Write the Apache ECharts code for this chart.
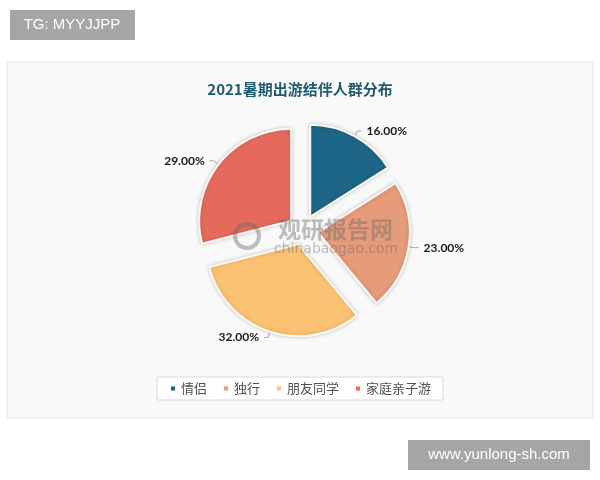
<!DOCTYPE html>
<html>
<head>
<meta charset="utf-8">
<script src="https://cdn.jsdelivr.net/npm/echarts@6/dist/echarts.min.js"></script>
<style>
html,body{margin:0;padding:0;background:#fff;}
#chart{width:600px;height:480px;}
</style>
</head>
<body>
<div id="chart"></div>
<script>
var titleText = '2021暑期出游结伴人群分布';
var categories = ['情侣', '独行', '朋友同学', '家庭亲子游'];
var values = [16, 23, 32, 29];
var colors = ['#1d6687', '#e69b7a', '#fcc273', '#e66a5c'];

var chart = echarts.init(document.getElementById('chart'));
var data = categories.map(function (c, i) {
  return { name: c, value: values[i], selected: true, itemStyle: { color: colors[i] } };
});
var cjk = '"Noto Sans CJK SC", sans-serif';
var wm = 'rgba(105,105,105,0.42)';
chart.setOption({
  backgroundColor: '#ffffff',
  animation: false,
  graphic: [
    { type: 'rect', z: -10, shape: { x: 7, y: 62, width: 586, height: 356 },
      style: { fill: '#f9f9f9', stroke: '#efefef', lineWidth: 2 } },
    { type: 'circle', z: 100, shape: { cx: 247, cy: 236, r: 12 }, style: { fill: 'none', stroke: wm, lineWidth: 4 } },
    { type: 'text', z: 100, style: { x: 278, y: 229, text: '观研报告网', fill: wm, font: 'bold 23px "Noto Sans CJK SC"', textVerticalAlign: 'middle' } },
    { type: 'text', z: 100, style: { x: 274, y: 249, text: 'chinabaogao.com', fill: wm, font: '14px "DejaVu Sans"', textVerticalAlign: 'middle' } },
    { type: 'rect', z: 200, shape: { x: 10, y: 10, width: 125, height: 30 }, style: { fill: '#a6a6a6' } },
    { type: 'text', z: 201, style: { x: 72, y: 25, text: 'TG: MYYJJPP', fill: '#ffffff', font: '15px "Liberation Sans"', textAlign: 'center', textVerticalAlign: 'middle' } },
    { type: 'rect', z: 200, shape: { x: 408, y: 440, width: 182, height: 30 }, style: { fill: '#a6a6a6' } },
    { type: 'text', z: 201, style: { x: 499, y: 455, text: 'www.yunlong-sh.com', fill: '#ffffff', font: '15px "Liberation Sans"', textAlign: 'center', textVerticalAlign: 'middle' } }
  ],
  title: {
    text: titleText,
    left: 'center',
    top: 77,
    textStyle: { fontFamily: cjk, fontSize: 15, fontWeight: 'bold', color: '#1e5b6e' }
  },
  legend: {
    data: categories,
    left: 'center',
    top: 377,
    icon: 'rect',
    itemWidth: 6,
    itemHeight: 6,
    itemGap: 15,
    padding: [5, 12, 5, 12],
    borderColor: '#d9d9d9',
    borderWidth: 1,
    backgroundColor: '#ffffff',
    selectedMode: false,
    textStyle: { fontFamily: cjk, fontSize: 13, color: '#505050' }
  },
  series: [{
    type: 'pie',
    z: 2,
    center: [303, 230],
    radius: [0, 92],
    startAngle: 90,
    clockwise: true,
    selectedMode: 'multiple',
    selectedOffset: 15,
    data: data,
    itemStyle: { borderColor: '#fdfaf5', borderWidth: 2, shadowBlur: 4, shadowColor: 'rgba(0,0,0,0.18)' },
    label: {
      show: true,
      position: 'outside',
      formatter: function (p) { return p.value.toFixed(2) + '%'; },
      fontFamily: 'Lato, "DejaVu Sans", sans-serif',
      fontWeight: 'bold',
      fontSize: 12,
      color: '#1a1a1a'
    },
    labelLine: { show: true, length: 6, length2: 4, lineStyle: { color: '#a6a6a6', width: 1 } },
    emphasis: { disabled: true },
    select: { itemStyle: { borderColor: '#fdfaf5', borderWidth: 2 }, label: { color: '#1a1a1a' } }
  }]
});
</script>
</body>
</html>
